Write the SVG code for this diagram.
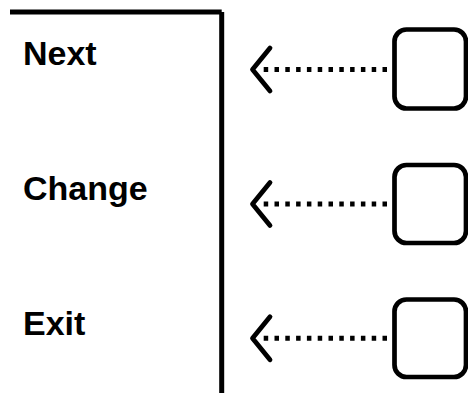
<svg xmlns="http://www.w3.org/2000/svg" width="468" height="393" viewBox="0 0 468 393">
<style>
.lbl{font-family:"Liberation Sans",Arial,sans-serif;font-weight:bold;font-size:34px;fill:#000}
.frame{stroke:#000;stroke-width:5;fill:none}
.box{fill:#fff;stroke:#000;stroke-width:4.7}
.dots{stroke:#000;stroke-width:5;stroke-dasharray:4.5 6.3;fill:none}
.chev{stroke:#000;stroke-width:4.8;fill:none;stroke-linecap:round;stroke-linejoin:round}
</style>
<rect width="468" height="393" fill="#fff"/>
<g id="panel">
<line class="frame" x1="10" y1="12" x2="221.7" y2="12"/>
<line class="frame" x1="221.7" y1="12" x2="221.7" y2="393"/>
<text class="lbl" x="23" y="65">Next</text>
<text class="lbl" x="23" y="200">Change</text>
<text class="lbl" x="23" y="335">Exit</text>
</g>
<g id="node1"><rect class="box" x="394.5" y="29.5" width="71.5" height="79" rx="12"/></g>
<g id="node2"><rect class="box" x="394.5" y="165" width="71.5" height="78" rx="12"/></g>
<g id="node3"><rect class="box" x="394.5" y="299.5" width="71.5" height="77.5" rx="12"/></g>
<g id="connectors">
<path class="dots" d="M387 69.5H263"/>
<path class="chev" d="M270 48L252.5 69.5L270 91"/>
<path class="dots" d="M387 204H263"/>
<path class="chev" d="M270 182.5L252.5 204L270 225.5"/>
<path class="dots" d="M387 338.3H263"/>
<path class="chev" d="M270 316.8L252.5 338.3L270 359.8"/>
</g>
</svg>
